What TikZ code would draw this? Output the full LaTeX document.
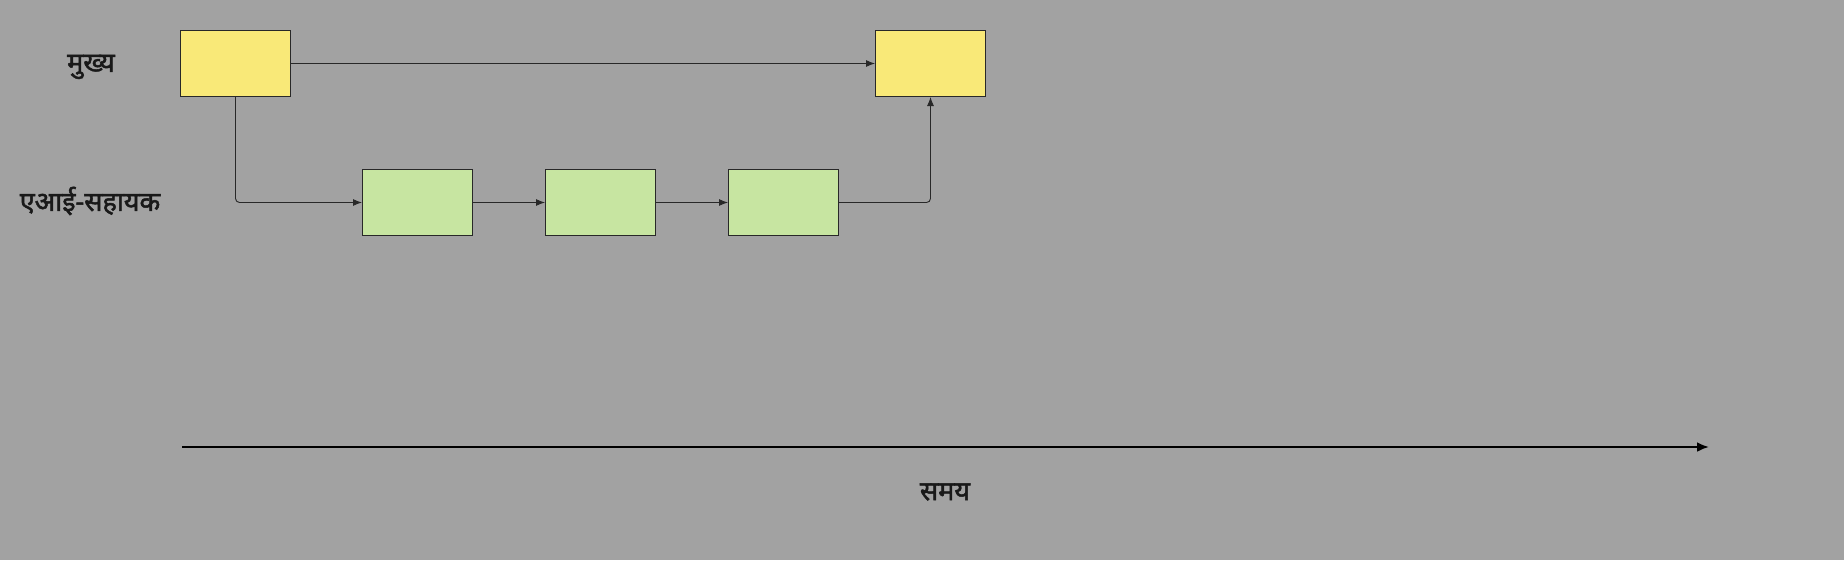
\documentclass[tikz,border=0pt]{standalone}
\usepackage{fontspec}
\newfontfamily\deva[Script=Devanagari, FakeBold=1.8]{Noto Sans}
\usetikzlibrary{arrows.meta}
\definecolor{bgc}{RGB}{162,162,162}
\definecolor{ylw}{RGB}{249,233,120}
\definecolor{grn}{RGB}{199,229,161}
\definecolor{edge}{RGB}{40,40,40}
\tikzset{
  box/.style={draw=edge, line width=1pt, minimum width=110pt, minimum height=66pt, inner sep=0pt, anchor=north west},
  ybox/.style={box, fill=ylw},
  gbox/.style={box, fill=grn},
  conn/.style={draw=edge, line width=0.9pt, -{Latex[length=9pt,width=7pt]}, rounded corners=4pt},
  lbl/.style={font=\deva\fontsize{27}{31}\selectfont, text=black!90},
}
\begin{document}
\begin{tikzpicture}[x=1pt,y=-1pt]
\fill[bgc] (0,0) rectangle (1844,560);
\useasboundingbox (0,0) rectangle (1844,560);
\node[lbl] (lm) at (91,67) {मुख्य};
\node[lbl] (la) at (90,201) {एआई-सहायक};
\node[ybox] (y1) at (180,30) {};
\node[ybox] (y2) at (875,30) {};
\node[gbox] (g1) at (362,169) {};
\node[gbox] (g2) at (545,169) {};
\node[gbox] (g3) at (728,169) {};
\draw[conn] (y1.east) -- (y2.west);
\draw[conn] (y1.south) |- (g1.west);
\draw[conn] (g1.east) -- (g2.west);
\draw[conn] (g2.east) -- (g3.west);
\draw[conn] (g3.east) -| (y2.south);
\coordinate (t0) at (182,447);
\coordinate (t1) at (1709,447);
\draw[line width=2.6pt, black, -{Latex[length=12pt,width=10pt]}] (t0) -- (t1);
\node[lbl] (tl) at (945,492) {समय};
\end{tikzpicture}
\end{document}
